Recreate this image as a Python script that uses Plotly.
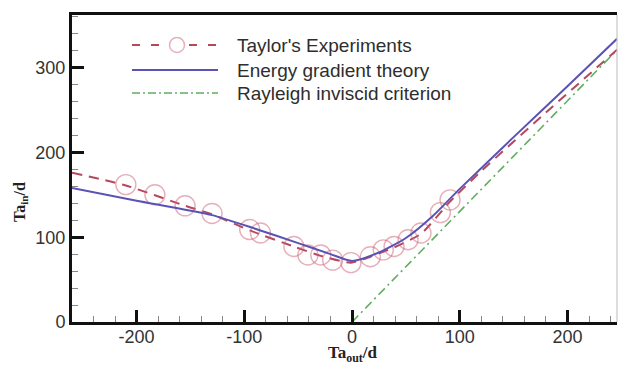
import plotly.graph_objects as go

# Taylor's experimental points (Ta_out/d, Ta_in/d)
taylor_x = [-210, -183, -155, -130, -95, -85, -54, -41, -29, -18, -1, 17, 29, 39, 52, 64, 82, 91]
taylor_y = [162, 150, 137, 128, 109, 105, 89, 79, 79, 73, 70, 77, 85, 89, 97, 105, 129, 144]

# Dashed curve through the experimental data
taylor_curve_x = [-260, -210, -155, -130, -95, -54, -29, -1, 17, 39, 64, 91, 120, 180, 246]
taylor_curve_y = [176, 161, 137, 127, 108, 89, 78, 70, 77, 88, 104, 142, 178, 247, 321]

# Energy gradient theory prediction
energy_x = [-260, -200, -130, -90, -50, -20, 0, 25, 50, 75, 100, 150, 200, 246]
energy_y = [158, 143, 126, 110, 93, 80, 72, 82, 99, 125, 157, 218, 278, 334]

# Rayleigh inviscid criterion (straight line from the origin)
rayleigh_x = [0, 250]
rayleigh_y = [0, 326]

x_tickvals = [-200, -100, 0, 100, 200]
x_ticktext = ["-200", "-100", "0", "100", "200"]
y_tickvals = [0, 100, 200, 300]
y_ticktext = ["0", "100", "200", "300"]

legend_labels = ["Taylor's Experiments", "Energy gradient theory", "Rayleigh inviscid criterion"]

RED = "#b4485c"
BLUE = "#5a52b4"
GREEN = "#5fae5f"
CIRCLE = "rgba(205,95,115,0.5)"

W, H = 618, 366
ML, MR, MT, MB = 72, 1, 15, 44
PW, PH = W - ML - MR, H - MT - MB


def px(x):
    return (x - ML) / PW


def py(y):
    return (H - MB - y) / PH


fig = go.Figure()

fig.add_trace(go.Scatter(x=rayleigh_x, y=rayleigh_y, mode="lines",
                         line=dict(color=GREEN, width=1.6, dash="9px,4px,2px,4px"),
                         showlegend=False))
fig.add_trace(go.Scatter(x=taylor_curve_x, y=taylor_curve_y, mode="lines",
                         line=dict(color=RED, width=2, dash="10px,7px", shape="spline", smoothing=0.6),
                         showlegend=False))
fig.add_trace(go.Scatter(x=taylor_x, y=taylor_y, mode="markers",
                         marker=dict(symbol="circle-open", size=20, color=CIRCLE,
                                     line=dict(width=1.4, color=CIRCLE)),
                         showlegend=False))
fig.add_trace(go.Scatter(x=energy_x, y=energy_y, mode="lines",
                         line=dict(color=BLUE, width=2, shape="spline", smoothing=0.6),
                         showlegend=False))

# Legend drawn as shapes + text
rows = [45, 70, 93]
sx0, sx1 = 132, 218
shapes = [
    dict(type="line", xref="paper", yref="paper", x0=px(sx0), x1=px(sx1), y0=py(rows[0]), y1=py(rows[0]),
         line=dict(color=RED, width=2, dash="8px,11px")),
    dict(type="circle", xref="paper", yref="paper", xsizemode="pixel", ysizemode="pixel",
         xanchor=px(177), yanchor=py(rows[0]), x0=-7.5, x1=7.5, y0=-7.5, y1=7.5,
         fillcolor="white", line=dict(color=CIRCLE, width=1.5)),
    dict(type="line", xref="paper", yref="paper", x0=px(sx0), x1=px(sx1), y0=py(rows[1]), y1=py(rows[1]),
         line=dict(color=BLUE, width=2)),
    dict(type="line", xref="paper", yref="paper", x0=px(sx0), x1=px(sx1), y0=py(rows[2]), y1=py(rows[2]),
         line=dict(color=GREEN, width=1.6, dash="8px,3px,2px,3px")),
    # thin right frame edge
    dict(type="line", xref="paper", yref="paper", x0=1, x1=1, y0=0, y1=1,
         line=dict(color="#bbbbbb", width=1)),
]

annotations = []
for label, r in zip(legend_labels, rows):
    annotations.append(dict(text=label, xref="paper", yref="paper", x=px(235), y=py(r),
                            xanchor="left", yanchor="middle", showarrow=False,
                            font=dict(family="Liberation Sans, Arial", size=19, color="#2e2e2e")))

annotations.append(dict(text="<b>Ta<sub>out</sub>/d</b>", xref="paper", yref="paper",
                        x=px(353), y=py(354), xanchor="center", yanchor="middle", showarrow=False,
                        font=dict(family="Liberation Serif, Times New Roman", size=17, color="#222222")))
annotations.append(dict(text="<b>Ta<sub>in</sub>/d</b>", xref="paper", yref="paper",
                        x=px(20), y=py(202), xanchor="center", yanchor="middle", showarrow=False,
                        textangle=-90,
                        font=dict(family="Liberation Serif, Times New Roman", size=16, color="#222222")))

tickfont = dict(family="Liberation Sans, Arial", size=18, color="#333333")

fig.update_layout(
    width=W, height=H,
    margin=dict(l=ML, r=MR, t=MT, b=MB),
    paper_bgcolor="white", plot_bgcolor="white",
    showlegend=False,
    shapes=shapes,
    annotations=annotations,
    xaxis=dict(range=[-260, 246], tickmode="array", tickvals=x_tickvals, ticktext=x_ticktext,
               ticks="inside", ticklen=12, tickwidth=3, tickcolor="#111111",
               minor=dict(ticks="inside", ticklen=6, tickwidth=1, tickcolor="#888888", dtick=20, tick0=0),
               showline=True, linewidth=3, linecolor="#111111", mirror=True,
               showgrid=False, zeroline=False, tickfont=tickfont, ticklabelstandoff=-4),
    yaxis=dict(range=[0, 362], tickmode="array", tickvals=y_tickvals, ticktext=y_ticktext,
               ticks="inside", ticklen=12, tickwidth=3, tickcolor="#111111",
               minor=dict(ticks="inside", ticklen=6, tickwidth=1, tickcolor="#888888", dtick=20, tick0=0),
               showline=True, linewidth=3, linecolor="#111111",
               showgrid=False, zeroline=False, tickfont=tickfont),
)

fig.write_html("out.html")
